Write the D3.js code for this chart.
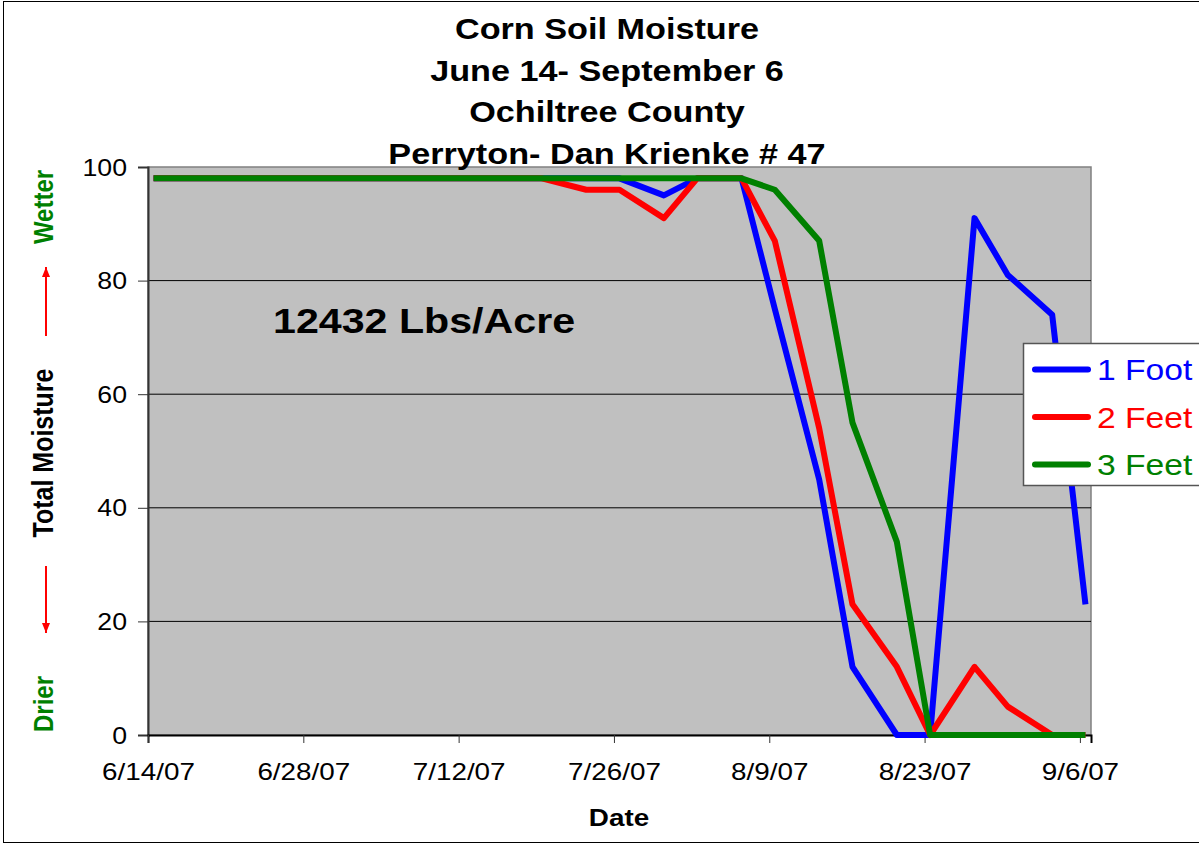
<!DOCTYPE html>
<html>
<head>
<meta charset="utf-8">
<script src="https://cdn.jsdelivr.net/npm/d3@7"></script>
<style>
  body { margin: 0; background: #fff; }
  text { font-family: Arial, "Liberation Sans", sans-serif; }
</style>
</head>
<body>
<div id="chart"></div>
<script>
// readings, twice a week
const dates = ["6/14/07","6/18/07","6/21/07","6/25/07","6/28/07","7/2/07","7/5/07","7/9/07",
  "7/12/07","7/16/07","7/19/07","7/23/07","7/26/07","7/30/07","8/2/07","8/6/07","8/9/07",
  "8/13/07","8/16/07","8/20/07","8/23/07","8/27/07","8/30/07","9/3/07","9/6/07"];
const foot1 = [98,98,98,98,98,98,98,98,98,98,98,98,98,95,98,98,75,45,12,0,0,91,81,74,23];
const feet2 = [98,98,98,98,98,98,98,98,98,98,98,96,96,91,98,98,87,54,23,12,0,12,5,0,0];
const feet3 = [98,98,98,98,98,98,98,98,98,98,98,98,98,98,98,98,96,87,55,34,0,0,0,0,0];
const seriesNames = ["1 Foot", "2 Feet", "3 Feet"];
const seriesColors = ["#0000FF", "#FF0000", "#008000"];
const tickDates = ["6/14/07","6/28/07","7/12/07","7/26/07","8/9/07","8/23/07","9/6/07"];
const yTicks = [0, 20, 40, 60, 80, 100];
const titleLines = ["Corn Soil Moisture", "June 14- September 6", "Ochiltree County", "Perryton- Dan Krienke # 47"];

const W = 1199, H = 845;
const SX = 1.16; // the picture's text is a little wide
const parse = d3.timeParse("%m/%d/%y");

const pL = 148, pR = 1091, pT = 167, pB = 735;

const svg = d3.select("#chart").append("svg").attr("width", W).attr("height", H);

svg.append("rect").attr("x", 3.5).attr("y", 1.5).attr("width", 1300).attr("height", 841)
  .attr("fill", "#fff").attr("stroke", "#000").attr("stroke-width", 1);

const x = d3.scaleTime()
  .domain([parse("6/14/07"), parse("9/7/07")])
  .range([pL, pR]);
const y = d3.scaleLinear().domain([0, 100]).range([pB, pT]);

// plot area
svg.append("rect").attr("x", pL).attr("y", pT)
  .attr("width", pR - pL).attr("height", pB - pT)
  .attr("fill", "#C0C0C0").attr("stroke", "#808080").attr("stroke-width", 1.5);

// grid
svg.append("g").selectAll("line").data(yTicks.filter(v => v > 0 && v < 100)).join("line")
  .attr("x1", pL).attr("x2", pR)
  .attr("y1", d => y(d)).attr("y2", d => y(d))
  .attr("stroke", "#000").attr("stroke-width", 1);

// y axis
const yAxis = svg.append("g").attr("transform", `translate(${pL},0)`)
  .call(d3.axisLeft(y).tickValues(yTicks).tickSize(10).tickPadding(0));
yAxis.select(".domain").attr("stroke", "#333").attr("stroke-width", 2);
yAxis.selectAll(".tick line").attr("stroke", "#333");
yAxis.selectAll(".tick text")
  .attr("x", 0).attr("dy", null).attr("y", 8)
  .attr("transform", `translate(-21,0) scale(${SX},1)`)
  .attr("font-size", 23).attr("fill", "#000").attr("font-family", "Arial, 'Liberation Sans', sans-serif");

// x axis
const xAxis = svg.append("g").attr("transform", `translate(0,${pB})`)
  .call(d3.axisBottom(x).tickValues(tickDates.map(parse)).tickSize(8).tickPadding(0)
    .tickFormat(d => d3.timeFormat("%-m/%-d/%y")(d)));
xAxis.select(".domain").attr("stroke", "#000").attr("stroke-width", 2);
xAxis.selectAll(".tick line").attr("stroke", "#333");
xAxis.selectAll(".tick text")
  .attr("dy", null).attr("y", 45)
  .attr("transform", `scale(${SX},1)`)
  .attr("font-size", 24).attr("fill", "#000").attr("font-family", "Arial, 'Liberation Sans', sans-serif");

// lines, points sit mid-day on the date axis
const line = d3.line()
  .x(d => x(d3.timeHour.offset(parse(d.date), 12)))
  .y(d => y(d.v));
[foot1, feet2, feet3].forEach((vals, i) => {
  const pts = dates.map((d, j) => ({ date: d, v: vals[j] }));
  svg.append("path").datum(pts)
    .attr("d", line)
    .attr("fill", "none")
    .attr("stroke", seriesColors[i])
    .attr("stroke-width", 6)
    .attr("stroke-linejoin", "round");
});

// text helper
function txt(px, py, s, size, opts) {
  opts = opts || {};
  return svg.append("text")
    .attr("transform", `translate(${px},${py}) scale(${SX},1)` + (opts.rot ? ` rotate(${opts.rot})` : ""))
    .attr("text-anchor", opts.anchor || "start")
    .attr("font-size", size)
    .attr("font-weight", opts.bold ? "bold" : "normal")
    .attr("fill", opts.fill || "#000")
    .text(s);
}

titleLines.forEach((s, i) => txt(607, 39 + i * 41.5, s, 29.5, { anchor: "middle", bold: true }));

txt(273, 333, "12432 Lbs/Acre", 35.5, { bold: true });
txt(619, 826, "Date", 24, { anchor: "middle", bold: true });

// y axis title pieces
txt(53, 453, "Total Moisture", 25, { anchor: "middle", bold: true, rot: -90 });
txt(53, 207, "Wetter", 24, { anchor: "middle", bold: true, rot: -90, fill: "#008000" });
txt(53, 704, "Drier", 24, { anchor: "middle", bold: true, rot: -90, fill: "#008000" });

svg.append("defs").append("marker")
  .attr("id", "ah").attr("viewBox", "0 0 10 8").attr("refX", 10).attr("refY", 4)
  .attr("markerUnits", "userSpaceOnUse")
  .attr("markerWidth", 10).attr("markerHeight", 8).attr("orient", "auto")
  .append("path").attr("d", "M0,0 L10,4 L0,8 z").attr("fill", "#FF0000");
svg.append("line").attr("x1", 46).attr("x2", 46).attr("y1", 336).attr("y2", 267)
  .attr("stroke", "#FF0000").attr("stroke-width", 2).attr("marker-end", "url(#ah)");
svg.append("line").attr("x1", 46).attr("x2", 46).attr("y1", 566).attr("y2", 633)
  .attr("stroke", "#FF0000").attr("stroke-width", 2).attr("marker-end", "url(#ah)");

// legend
const lg = svg.append("g");
lg.append("rect").attr("x", 1023.5).attr("y", 343.5).attr("width", 200).attr("height", 142)
  .attr("fill", "#fff").attr("stroke", "#555").attr("stroke-width", 1.5);
seriesNames.forEach((n, i) => {
  const ly = 369.5 + i * 47.5;
  lg.append("line").attr("x1", 1035).attr("x2", 1088).attr("y1", ly).attr("y2", ly)
    .attr("stroke", seriesColors[i]).attr("stroke-width", 6).attr("stroke-linecap", "round");
  txt(1097, ly + 10.5, n, 29, { fill: seriesColors[i] });
});
</script>
</body>
</html>
